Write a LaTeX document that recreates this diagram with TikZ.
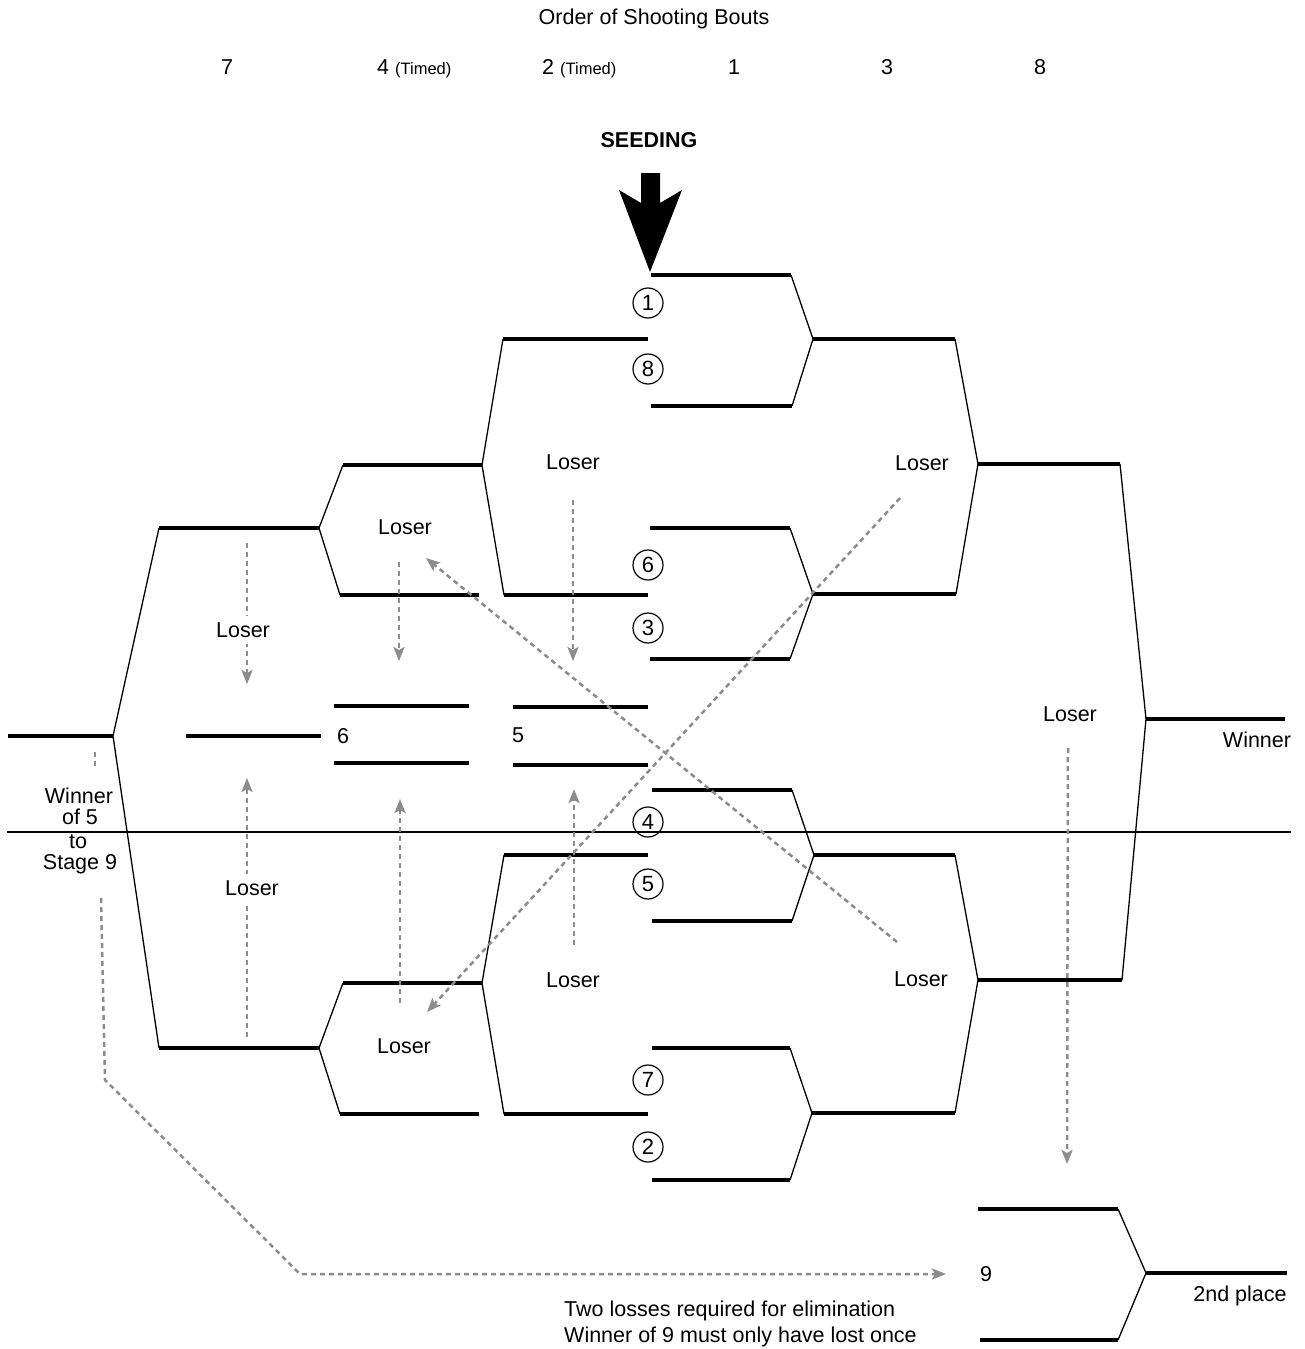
\documentclass[tikz,border=0pt]{standalone}
\usepackage{fontspec}
\setmainfont{Liberation Sans}
\usetikzlibrary{arrows.meta}
\definecolor{dgray}{RGB}{140,140,140}
\newcommand{\fmain}{\fontsize{21.5}{21.5}\selectfont}
\newcommand{\fsmalltxt}{\fontsize{16.5}{16.5}\selectfont}
\begin{document}
\begin{tikzpicture}[x=1pt,y=-1pt,
  thickln/.style={line width=4pt},
  thinln/.style={line width=1.3pt},
  lossarrow/.style={draw=dgray, line width=2.5pt, dash pattern=on 5pt off 4pt,
     -{Stealth[length=14pt,width=11pt,inset=3pt]}},
  lossline/.style={draw=dgray, line width=2.5pt, dash pattern=on 5pt off 4pt},
  lbl/.style={inner sep=0pt, text height=15.4pt, text depth=0pt, font=\fmain},
  lblw/.style={lbl, fill=white, inner ysep=6pt, inner xsep=2pt},
  seedc/.style={circle, draw, line width=1.2pt, minimum size=30pt, inner sep=0pt,
     font=\fontsize{22}{22}\selectfont, text height=15.8pt, text depth=0pt},
]
\useasboundingbox (0,0) rectangle (1305,1349);

% ---------- header ----------
\node[lbl] (title) at (654,17) {Order of Shooting Bouts};
\node[lbl] (b7) at (227,67) {7};
\node[lbl, anchor=west] (b4) at (377,67) {4 {\fsmalltxt(Timed)}};
\node[lbl, anchor=west] (b2) at (542,67) {2 {\fsmalltxt(Timed)}};
\node[lbl] (b1) at (734,67) {1};
\node[lbl] (b3) at (887,67) {3};
\node[lbl] (b8) at (1040,67) {8};
\node[lbl, font=\fmain\bfseries] (seeding) at (649,140) {SEEDING};
\fill (641,173) -- (660,173) -- (660,203) -- (682,190) -- (650,272) -- (619,190) -- (641,203) -- cycle;

% ---------- winners bracket ----------
\coordinate (s1a) at (651,275); \coordinate (s1b) at (791,275);
\coordinate (s8a) at (651,406); \coordinate (s8b) at (792,406);
\coordinate (m18) at (813,339); \coordinate (m18e) at (955,339);
\coordinate (s6a) at (650,528); \coordinate (s6b) at (790,528);
\coordinate (s3a) at (650,659); \coordinate (s3b) at (790,659);
\coordinate (m63) at (813,594); \coordinate (m63e) at (956,594);
\coordinate (s4a) at (652,790); \coordinate (s4b) at (792,790);
\coordinate (s5a) at (652,921); \coordinate (s5b) at (792,921);
\coordinate (m45) at (814,855); \coordinate (m45e) at (955,855);
\coordinate (s7a) at (652,1048); \coordinate (s7b) at (790,1048);
\coordinate (s2a) at (652,1180); \coordinate (s2b) at (790,1180);
\coordinate (m72) at (812,1113); \coordinate (m72e) at (955,1113);
\coordinate (ma) at (978,464); \coordinate (mae) at (1120,464);
\coordinate (mb) at (978,980); \coordinate (mbe) at (1122,980);
\coordinate (mf) at (1146,719); \coordinate (mfe) at (1285,719);

\draw[thickln] (s1a) -- (s1b); \draw[thickln] (s8a) -- (s8b);
\draw[thickln] (s6a) -- (s6b); \draw[thickln] (s3a) -- (s3b);
\draw[thickln] (s4a) -- (s4b); \draw[thickln] (s5a) -- (s5b);
\draw[thickln] (s7a) -- (s7b); \draw[thickln] (s2a) -- (s2b);
\draw[thinln] (s1b) -- (m18) -- (s8b);
\draw[thinln] (s6b) -- (m63) -- (s3b);
\draw[thinln] (s4b) -- (m45) -- (s5b);
\draw[thinln] (s7b) -- (m72) -- (s2b);
\draw[thickln] (m18) -- (m18e); \draw[thickln] (m63) -- (m63e);
\draw[thickln] (m45) -- (m45e); \draw[thickln] (m72) -- (m72e);
\draw[thinln] (m18e) -- (ma) -- (m63e);
\draw[thinln] (m45e) -- (mb) -- (m72e);
\draw[thickln] (ma) -- (mae); \draw[thickln] (mb) -- (mbe);
\draw[thinln] (mae) -- (mf) -- (mbe);
\draw[thickln] (mf) -- (mfe);

\node[seedc] (c1) at (648,303) {1};
\node[seedc] (c8) at (648,369) {8};
\node[seedc] (c6) at (648,565) {6};
\node[seedc] (c3) at (648,628) {3};
\node[seedc] (c4) at (648,822) {4};
\node[seedc] (c5) at (648,884) {5};
\node[seedc] (c7) at (648,1080) {7};
\node[seedc] (c2) at (648,1147) {2};

% ---------- losers bracket ----------
\coordinate (l1a) at (503,339); \coordinate (l1ae) at (648,339);
\coordinate (l1b) at (504,595); \coordinate (l1be) at (648,595);
\coordinate (l1m) at (482,465); \coordinate (l1ms) at (343,465);
\coordinate (l2b) at (340,595); \coordinate (l2be) at (479,595);
\coordinate (l2m) at (319,528); \coordinate (l2ms) at (159,528);
\coordinate (l3a) at (504,855); \coordinate (l3ae) at (648,855);
\coordinate (l3b) at (504,1114); \coordinate (l3be) at (648,1114);
\coordinate (l3m) at (482,983); \coordinate (l3ms) at (343,983);
\coordinate (l4b) at (340,1114); \coordinate (l4be) at (479,1114);
\coordinate (l4m) at (319,1048); \coordinate (l4ms) at (159,1048);
\coordinate (lf) at (113,736); \coordinate (lfs) at (8,736);

\draw[thickln] (l1a) -- (l1ae); \draw[thickln] (l1b) -- (l1be);
\draw[thinln] (l1a) -- (l1m) -- (l1b);
\draw[thickln] (l1ms) -- (l1m);
\draw[thickln] (l2b) -- (l2be);
\draw[thinln] (l1ms) -- (l2m) -- (l2b);
\draw[thickln] (l2ms) -- (l2m);
\draw[thickln] (l3a) -- (l3ae); \draw[thickln] (l3b) -- (l3be);
\draw[thinln] (l3a) -- (l3m) -- (l3b);
\draw[thickln] (l3ms) -- (l3m);
\draw[thickln] (l4b) -- (l4be);
\draw[thinln] (l3ms) -- (l4m) -- (l4b);
\draw[thickln] (l4ms) -- (l4m);
\draw[thinln] (l2ms) -- (lf) -- (l4ms);
\draw[thickln] (lfs) -- (lf);

% ---------- stages 6 and 5 ----------
\coordinate (p6a) at (186,736); \coordinate (p6b) at (321,736);
\draw[thickln] (p6a) -- (p6b);
\node[lbl] (st6) at (343,736) {6};
\coordinate (q6a) at (334,706); \coordinate (q6b) at (469,706);
\coordinate (r6a) at (334,763); \coordinate (r6b) at (469,763);
\draw[thickln] (q6a) -- (q6b); \draw[thickln] (r6a) -- (r6b);
\node[lbl] (st5) at (518,735) {5};
\coordinate (q5a) at (513,707); \coordinate (q5b) at (648,707);
\coordinate (r5a) at (513,765); \coordinate (r5b) at (648,765);
\draw[thickln] (q5a) -- (q5b); \draw[thickln] (r5a) -- (r5b);

% ---------- stage 9 ----------
\coordinate (n9a) at (978,1209); \coordinate (n9ae) at (1118,1209);
\coordinate (n9b) at (980,1340); \coordinate (n9be) at (1118,1340);
\coordinate (n9m) at (1146,1273); \coordinate (n9me) at (1287,1273);
\draw[thickln] (n9a) -- (n9ae); \draw[thickln] (n9b) -- (n9be);
\draw[thinln] (n9ae) -- (n9m) -- (n9be);
\draw[thickln] (n9m) -- (n9me);
\node[lbl] (st9) at (986,1274) {9};

% ---------- divider ----------
\coordinate (hl) at (7,832); \coordinate (hr) at (1291,832);
\draw[line width=1.3pt] (hl) -- (hr);

% ---------- loser arrows ----------
\coordinate (a1s) at (247,543); \coordinate (a1e) at (247,684);
\coordinate (a2s) at (399,562); \coordinate (a2e) at (399,661);
\coordinate (a3s) at (573,500); \coordinate (a3e) at (573,661);
\coordinate (a4s) at (1068,748); \coordinate (a4e) at (1067,1164);
\coordinate (a5s) at (247,1037); \coordinate (a5e) at (247,778);
\coordinate (a6s) at (400,1003); \coordinate (a6e) at (400,799);
\coordinate (a7s) at (574,945); \coordinate (a7e) at (574,789);
\coordinate (a8s) at (900,498); \coordinate (a8e) at (427,1012);
\coordinate (a9s) at (897,942); \coordinate (a9e) at (426,558);
\draw[lossarrow] (a1s) -- (a1e);
\draw[lossarrow] (a2s) -- (a2e);
\draw[lossarrow] (a3s) -- (a3e);
\draw[lossarrow] (a4s) -- (a4e);
\draw[lossarrow] (a5s) -- (a5e);
\draw[lossarrow] (a6s) -- (a6e);
\draw[lossarrow] (a7s) -- (a7e);
\draw[lossarrow] (a8s) -- (a8e);
\draw[lossarrow] (a9s) -- (a9e);
\coordinate (w5a) at (95,752); \coordinate (w5b) at (95,767);
\draw[lossline] (w5a) -- (w5b);
\coordinate (w5c) at (101,898); \coordinate (w5d) at (105,1080);
\coordinate (w5e) at (300,1274); \coordinate (w5f) at (946,1274);
\draw[lossarrow] (w5c) -- (w5d) -- (w5e) -- (w5f);

% ---------- labels ----------
\node[lbl] (lo1) at (573,462) {Loser};
\node[lbl] (lo2) at (922,463) {Loser};
\node[lbl] (lo3) at (405,527) {Loser};
\node[lblw] (lo4) at (243,630) {Loser};
\node[lbl] (lo5) at (1070,714) {Loser};
\node[lblw] (lo6) at (252,888) {Loser};
\node[lbl] (lo7) at (573,980) {Loser};
\node[lbl] (lo8) at (921,979) {Loser};
\node[lbl] (lo9) at (404,1046) {Loser};
\node[lbl] (win) at (1257,740) {Winner};
\node[lbl] (second) at (1240,1294) {2nd place};
\node[lbl] (w5t1) at (79,796) {Winner};
\node[lbl] (w5t2) at (80,817) {of 5};
\node[lbl] (w5t3) at (78,841) {to};
\node[lbl] (w5t4) at (80,862) {Stage 9};
\node[lbl, anchor=west] (note1) at (564,1309) {Two losses required for elimination};
\node[lbl, anchor=west] (note2) at (564,1335) {Winner of 9 must only have lost once};
\end{tikzpicture}
\end{document}
